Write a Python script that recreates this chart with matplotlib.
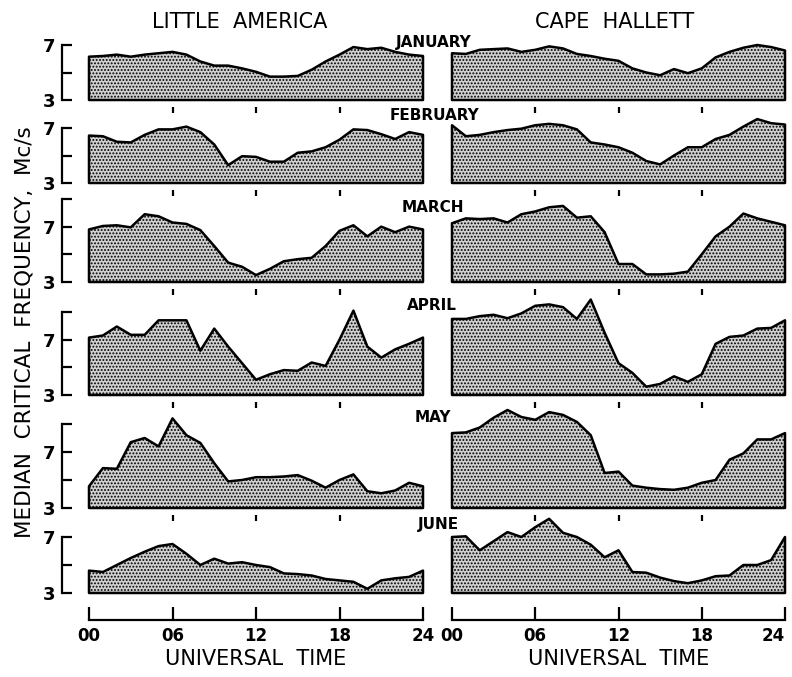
import matplotlib.pyplot as plt
import numpy as np

plt.rcParams['font.family'] = ['DejaVu Sans']
plt.rcParams['hatch.color'] = '#3a3a3a'
plt.rcParams['hatch.linewidth'] = 0.9

# universal time, hours
hours = np.arange(25)

months = ['JANUARY', 'FEBRUARY', 'MARCH', 'APRIL', 'MAY', 'JUNE']
y_tops = [7, 7, 9, 9, 9, 7]
time_ticks = [0, 6, 12, 18, 24]
time_labels = ['00', '06', '12', '18', '24']

# median critical frequency (Mc/s), Little America
la_jan = [6.15, 6.2, 6.3, 6.15, 6.3, 6.4, 6.5, 6.3, 5.8, 5.5, 5.5, 5.3, 5.05,
          4.7, 4.7, 4.75, 5.2, 5.8, 6.3, 6.85, 6.7, 6.8, 6.5, 6.3, 6.2]
la_feb = [6.45, 6.4, 6.0, 5.95, 6.5, 6.9, 6.9, 7.1, 6.7, 5.8, 4.3, 4.95, 4.9,
          4.55, 4.55, 5.2, 5.3, 5.6, 6.15, 6.9, 6.85, 6.55, 6.2, 6.7, 6.5]
la_mar = [6.8, 7.05, 7.1, 6.95, 7.9, 7.75, 7.3, 7.2, 6.75, 5.6, 4.4, 4.1, 3.5,
          3.95, 4.5, 4.65, 4.75, 5.6, 6.7, 7.1, 6.3, 7.0, 6.6, 7.0, 6.8]
la_apr = [7.15, 7.3, 7.95, 7.35, 7.35, 8.4, 8.4, 8.4, 6.2, 7.8, 6.5, 5.3, 4.1,
          4.5, 4.8, 4.75, 5.35, 5.1, 7.0, 9.1, 6.5, 5.7, 6.3, 6.7, 7.15]
la_may = [4.55, 5.85, 5.8, 7.7, 8.0, 7.4, 9.4, 8.2, 7.65, 6.2, 4.9, 5.0, 5.2,
          5.2, 5.25, 5.35, 4.95, 4.45, 5.0, 5.4, 4.2, 4.05, 4.25, 4.8, 4.55]
la_jun = [4.6, 4.5, 5.0, 5.5, 5.95, 6.35, 6.5, 5.8, 5.0, 5.45, 5.1, 5.2, 5.0,
          4.85, 4.4, 4.35, 4.25, 4.0, 3.9, 3.8, 3.3, 3.9, 4.05, 4.15, 4.6]

# median critical frequency (Mc/s), Cape Hallett
ch_jan = [6.4, 6.35, 6.65, 6.7, 6.75, 6.5, 6.65, 6.9, 6.75, 6.35, 6.2, 6.0, 5.85,
          5.3, 5.0, 4.8, 5.25, 4.95, 5.3, 6.1, 6.5, 6.8, 7.0, 6.85, 6.6]
ch_feb = [7.2, 6.4, 6.5, 6.7, 6.85, 6.95, 7.2, 7.3, 7.2, 6.9, 5.95, 5.8, 5.6,
          5.2, 4.6, 4.35, 5.0, 5.6, 5.6, 6.2, 6.5, 7.1, 7.65, 7.35, 7.25]
ch_mar = [7.25, 7.6, 7.55, 7.6, 7.3, 7.9, 8.1, 8.4, 8.5, 7.65, 7.75, 6.6, 4.3,
          4.3, 3.55, 3.55, 3.6, 3.75, 5.0, 6.3, 7.0, 7.95, 7.6, 7.35, 7.1]
ch_apr = [8.5, 8.5, 8.7, 8.8, 8.55, 8.9, 9.45, 9.55, 9.35, 8.5, 9.9, 7.5, 5.3,
          4.6, 3.6, 3.8, 4.35, 3.95, 4.5, 6.7, 7.2, 7.3, 7.8, 7.85, 8.4]
ch_may = [8.35, 8.4, 8.75, 9.45, 10.0, 9.5, 9.3, 9.85, 9.65, 9.15, 8.2, 5.5, 5.6,
          4.6, 4.45, 4.35, 4.3, 4.45, 4.8, 5.0, 6.45, 6.9, 7.9, 7.9, 8.35]
ch_jun = [7.0, 7.05, 6.05, 6.7, 7.35, 7.0, 7.7, 8.3, 7.3, 7.0, 6.45, 5.55, 6.05,
          4.5, 4.45, 4.1, 3.85, 3.7, 3.9, 4.2, 4.25, 5.0, 5.0, 5.35, 7.0]

little_america = [la_jan, la_feb, la_mar, la_apr, la_may, la_jun]
cape_hallett = [ch_jan, ch_feb, ch_mar, ch_apr, ch_may, ch_jun]

W, H = 792, 677
PT = 0.72  # points per pixel at 100 dpi

# pixel rows: (top of y range, baseline at 3 Mc/s)
rows_px = [(45, 100), (128, 183), (199, 282), (312, 395), (424, 508), (537, 593)]
cols_px = [(89, 423), (452, 785)]
month_xy = [(434, 42), (435, 115), (433, 207), (432, 305), (433, 418), (438, 525)]


def draw_panel(ax, vals, ymax, left, last):
    ax.fill_between(hours, 3, vals, facecolor='#d0d0d0', edgecolor='black',
                    hatch='.....', linewidth=1.8, clip_on=False, zorder=3)
    ax.set_xlim(0, 24)
    ax.set_ylim(3, ymax)
    ax.patch.set_visible(False)
    ax.spines['top'].set_visible(False)
    ax.spines['right'].set_visible(False)
    if left:
        ax.spines['left'].set_position(('outward', 27 * PT))
        ax.spines['left'].set_bounds(3, ymax)
        ax.spines['left'].set_linewidth(1.6)
        ticks = list(range(3, ymax + 1, 2))
        ax.set_yticks(ticks)
        ax.set_yticklabels([str(t) if t in (3, 7) else '' for t in ticks],
                           fontweight='bold', fontsize=13)
        ax.tick_params(axis='y', direction='in', length=10 * PT, width=1.6, pad=5)
    else:
        ax.spines['left'].set_visible(False)
        ax.set_yticks([])
    if last:
        ax.spines['bottom'].set_position(('outward', 27 * PT))
        ax.spines['bottom'].set_linewidth(1.6)
        ax.set_xticks(time_ticks)
        ax.set_xticklabels(time_labels, fontweight='bold', fontsize=12)
        ax.tick_params(axis='x', direction='in', length=13 * PT, width=1.6, pad=5)
        ax.set_xlabel('UNIVERSAL  TIME', fontsize=15, labelpad=3)
    else:
        ax.spines['bottom'].set_position(('outward', 7 * PT))
        ax.spines['bottom'].set_color('none')
        ax.set_xticks([6, 12, 18])
        ax.set_xticklabels([])
        ax.tick_params(axis='x', direction='out', length=6 * PT, width=1.6,
                       color='black')
    return ax


fig = plt.figure(figsize=(W / 100, H / 100), dpi=100)

for i, month in enumerate(months):
    top, base = rows_px[i]
    for j, (x0, x1) in enumerate(cols_px):
        ax = fig.add_axes([x0 / W, 1 - base / H, (x1 - x0) / W, (base - top) / H])
        series = little_america if j == 0 else cape_hallett
        draw_panel(ax, series[i], y_tops[i], j == 0, i == len(months) - 1)
        if j == 1 and i == len(months) - 1:
            ax.get_xticklabels()[-1].set_horizontalalignment('right')
    mx, my = month_xy[i]
    fig.text(mx / W, 1 - my / H, month, ha='center', va='center',
             fontsize=11, fontweight='bold')

fig.text(240 / W, 1 - 22 / H, 'LITTLE  AMERICA', ha='center', va='center', fontsize=15)
fig.text(615 / W, 1 - 22 / H, 'CAPE  HALLETT', ha='center', va='center', fontsize=15)
fig.text(25 / W, 1 - 332 / H, 'MEDIAN  CRITICAL  FREQUENCY,  Mc/s', ha='center',
         va='center', rotation=90, fontsize=15.5)

fig.savefig('out.png', dpi=100)
